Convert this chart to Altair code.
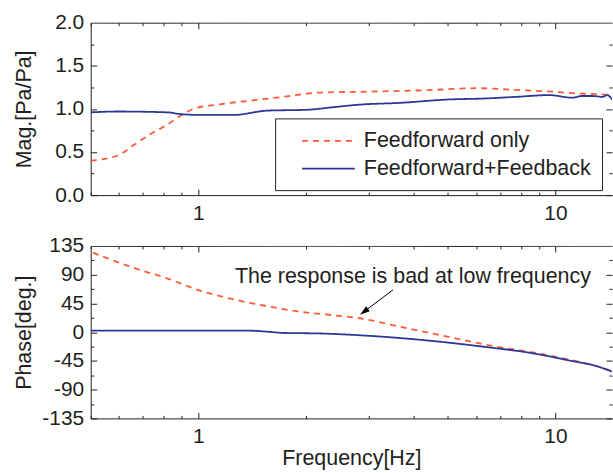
import altair as alt
import pandas as pd

# ---- measured frequency response -------------------------------------------
SERIES = ["Feedforward only", "Feedforward+Feedback"]

# magnitude, feedforward only
ff_mag_freq = [0.50, 0.595, 0.66, 0.736, 0.821, 0.892, 0.97, 1.132, 1.427, 1.73,
               2.194, 2.969, 4.536, 6.02, 7.78, 9.81, 11.44, 13.27, 14.4]
ff_mag = [0.40, 0.46, 0.58, 0.71, 0.82, 0.92, 1.00, 1.05, 1.10, 1.14,
          1.19, 1.20, 1.22, 1.24, 1.22, 1.20, 1.18, 1.17, 1.16]

# magnitude, feedforward + feedback
fb_mag_freq = [0.50, 0.595, 0.821, 0.892, 1.015, 1.254, 1.561, 2.018, 2.39, 2.838,
               3.668, 5.06, 6.26, 7.78, 9.62, 11.15, 11.9, 12.69, 13.53, 13.97, 14.4]
fb_mag = [0.96, 0.97, 0.96, 0.94, 0.93, 0.93, 0.98, 0.99, 1.02, 1.05,
          1.07, 1.11, 1.12, 1.14, 1.16, 1.13, 1.15, 1.15, 1.14, 1.16, 1.11]

# phase, feedforward only
ff_ph_freq = [0.507, 0.66, 0.821, 1.015, 1.254, 1.561, 1.933, 2.39, 2.838, 3.668,
              5.06, 6.98, 8.63, 10.73, 13.27, 14.4]
ff_ph = [124.5, 100.7, 84.0, 64.8, 51.5, 40.6, 32.0, 26.5, 21.8, 8.6,
         -7.8, -23.5, -31.5, -42.0, -54.5, -61.0]

# phase, feedforward + feedback
fb_ph_freq = [0.50, 0.66, 1.0, 1.40, 1.56, 1.73, 2.194, 2.969, 4.536, 6.26, 8.63,
              10.73, 13.27, 14.4]
fb_ph = [2.3, 2.5, 2.5, 2.3, 0.8, -1.2, -2.0, -5.5, -13.8, -22.6, -33.0,
         -43.4, -54.5, -61.7]

# annotation: label anchor and arrow (tail -> head) in data units
note_text = "The response is bad at low frequency"
note_freq, note_deg = 3.99, 86.6
arrow_freq = [3.51, 2.911]
arrow_deg = [66.3, 32.0]

# ---- styling ---------------------------------------------------------------
ORANGE = "#ff5a36"
BLUE = "#2b3896"
FRAME = "#231f20"
TEXT = "#231f20"
FONT = "Liberation Sans"
W, H = 523, 173
F_DOMAIN = [0.5, 14.4]

x_ticks = [0.5, 0.6, 0.7, 0.8, 0.9, 1, 2, 3, 4, 5, 6, 7, 8, 9, 10]
mag_ticks = [i * 0.25 for i in range(9)]
ph_ticks = [-135 + 22.5 * i for i in range(13)]


def series_frame(freq, vals, name):
    return pd.DataFrame({"freq": freq, "value": vals, "series": name})


mag_df = pd.concat([series_frame(ff_mag_freq, ff_mag, SERIES[0]),
                    series_frame(fb_mag_freq, fb_mag, SERIES[1])])
ph_df = pd.concat([series_frame(ff_ph_freq, ff_ph, SERIES[0]),
                   series_frame(fb_ph_freq, fb_ph, SERIES[1])])


def x_enc(title):
    # grid dashes draw short inward ticks on both the bottom and top frame
    axis = alt.Axis(
        values=x_ticks,
        labelExpr="(datum.value == 1 || datum.value == 10) ? '' + datum.value : ''",
        labelOverlap=False, labelPadding=7, labelFontSize=21, labelColor=TEXT,
        ticks=False, domain=True, domainColor=FRAME, domainWidth=1,
        grid=True, gridColor=FRAME, gridOpacity=1, gridWidth=1,
        gridDash={"condition": {"test": "datum.value == 1 || datum.value == 10",
                                "value": [6, H - 12, 6, 2000]},
                  "value": [3, H - 6, 3, 2000]},
        titleFontSize=21.5, titleFontWeight="normal", titleColor=TEXT, titlePadding=1,
    )
    return alt.X("freq:Q", title=title,
                 scale=alt.Scale(type="log", domain=F_DOMAIN, nice=False), axis=axis)


def y_enc(title, ticks, domain, label_expr, major_test, top_test):
    axis = alt.Axis(
        values=ticks, labelExpr=label_expr,
        labelOverlap=False, labelPadding=7, labelFontSize=21, labelColor=TEXT,
        ticks=False, domain=True, domainColor=FRAME, domainWidth=1,
        grid=True, gridColor=FRAME, gridOpacity=1, gridWidth=1,
        gridDash={"condition": [{"test": top_test, "value": [1, 0]},
                                {"test": major_test, "value": [6, W - 12, 6, 2000]}],
                  "value": [3, W - 6, 3, 2000]},
        titleFontSize=21.5, titleFontWeight="normal", titleColor=TEXT,
        titleX=-66, titleY=H / 2, titleAngle=270, titleAlign="center", titleBaseline="middle",
    )
    return alt.Y("value:Q", title=title,
                 scale=alt.Scale(domain=domain, nice=False), axis=axis)


legend = alt.Legend(
    orient="none", legendX=185, legendY=96, title=None,
    fillColor="white", strokeColor=FRAME, padding=11, cornerRadius=0,
    symbolType="M-2.5,0H2.5", symbolSize=449, symbolStrokeWidth=1.8,
    symbolOffset=31, labelOffset=24, rowPadding=6, labelLimit=400,
    labelFontSize=21.5, labelColor=TEXT, labelFont=FONT,
)


def series_lines(df, x, y, with_legend):
    color_kw = {"legend": legend} if with_legend else {"legend": None}
    return alt.Chart(df).mark_line(strokeWidth=1.8, interpolate="monotone", clip=True).encode(
        x=x, y=y,
        color=alt.Color("series:N", title=None,
                        scale=alt.Scale(domain=SERIES, range=[ORANGE, BLUE]), **color_kw),
        strokeDash=alt.StrokeDash("series:N", title=None,
                                  scale=alt.Scale(domain=SERIES, range=[[6, 5], [1, 0]]),
                                  **color_kw),
        detail="series:N",
    )


# magnitude panel
mag_x = x_enc(None)
mag_y = y_enc("Mag.[Pa/Pa]", mag_ticks, [0, 2],
              "datum.value % 0.5 == 0 ? format(datum.value, '.1f') : ''",
              "datum.value % 0.5 == 0", "datum.value == 2")
mag_panel = series_lines(mag_df, mag_x, mag_y, True).properties(width=W, height=H)

# phase panel with annotation
ph_x = x_enc("Frequency[Hz]")
ph_y = y_enc("Phase[deg.]", ph_ticks, [-135, 135],
             "datum.value % 45 == 0 ? '' + datum.value : ''",
             "datum.value % 45 == 0", "datum.value == 135")
ph_lines = series_lines(ph_df, ph_x, ph_y, False)

note = alt.Chart(pd.DataFrame({"freq": [note_freq], "value": [note_deg], "label": [note_text]})).mark_text(
    fontSize=21.5, align="center", baseline="middle", color=TEXT, font=FONT
).encode(x=ph_x, y=ph_y, text="label:N")

arrow_df = pd.DataFrame({"freq": arrow_freq, "value": arrow_deg})
arrow_line = alt.Chart(arrow_df).mark_line(color="black", strokeWidth=1).encode(x=ph_x, y=ph_y)
arrow_head = alt.Chart(arrow_df.iloc[[1]]).mark_point(
    shape="M0,-1L-0.6,1L0.6,1Z", angle=233, size=100, filled=True, color="black", opacity=1
).encode(x=ph_x, y=ph_y)

ph_panel = alt.layer(ph_lines, arrow_line, arrow_head, note).properties(width=W, height=H)

chart = (
    alt.vconcat(mag_panel, ph_panel, spacing=10)
    .resolve_scale(color="independent", strokeDash="independent")
    .properties(padding={"left": 13, "top": 10, "right": 0, "bottom": 0})
    .configure(font=FONT)
    .configure_view(stroke="transparent")
    .configure_axis(labelFont=FONT, titleFont=FONT)
)

chart.save("out.html", embed_options={"renderer": "svg", "actions": False})
